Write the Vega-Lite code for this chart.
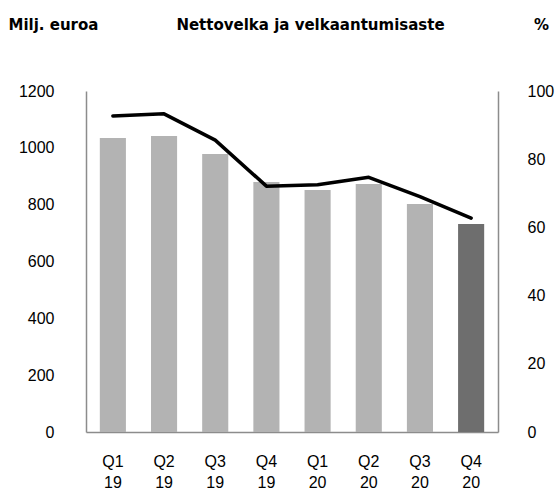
{
  "$schema": "https://vega.github.io/schema/vega-lite/v6.json",
  "width": 412,
  "height": 341,
  "autosize": "none",
  "padding": {"left": 86, "top": 91, "right": 60, "bottom": 59},
  "background": "white",
  "data": {
    "values": [
      {"q": "Q1 19", "velka": 1035, "aste": 92.7, "last": "no"},
      {"q": "Q2 19", "velka": 1042, "aste": 93.3, "last": "no"},
      {"q": "Q3 19", "velka": 978, "aste": 85.6, "last": "no"},
      {"q": "Q4 19", "velka": 880, "aste": 72.1, "last": "no"},
      {"q": "Q1 20", "velka": 852, "aste": 72.5, "last": "no"},
      {"q": "Q2 20", "velka": 873, "aste": 74.7, "last": "no"},
      {"q": "Q3 20", "velka": 802, "aste": 69.0, "last": "no"},
      {"q": "Q4 20", "velka": 732, "aste": 62.7, "last": "yes"}
    ]
  },
  "config": {
    "view": {"stroke": null},
    "axis": {
      "labelFont": "Liberation Sans",
      "labelFontSize": 16,
      "labelColor": "black",
      "domainColor": "#8c8c8c",
      "domainWidth": 1.5,
      "ticks": false,
      "grid": false,
      "titleFont": "DejaVu Sans",
      "titleFontSize": 15,
      "titleFontWeight": "bold",
      "titleColor": "black",
      "titleAngle": 0,
      "titleBaseline": "middle"
    }
  },
  "encoding": {
    "x": {
      "field": "q",
      "type": "ordinal",
      "sort": null,
      "scale": {"paddingInner": 0.49, "paddingOuter": 0.27},
      "axis": {
        "title": "Nettovelka ja velkaantumisaste",
        "titleAlign": "center",
        "titleX": 224,
        "titleY": -408,
        "labelAngle": 0,
        "labelPadding": 21,
        "labelLineHeight": 21,
        "labelExpr": "split(datum.label, ' ')"
      }
    }
  },
  "layer": [
    {
      "mark": {"type": "bar"},
      "encoding": {
        "y": {
          "field": "velka",
          "type": "quantitative",
          "scale": {"domain": [0, 1200]},
          "axis": {
            "values": [0, 200, 400, 600, 800, 1000, 1200],
            "format": "d",
            "labelPadding": 32,
            "title": "Milj. euroa",
            "titleAlign": "left",
            "titleX": -78,
            "titleY": -67
          }
        },
        "color": {
          "field": "last",
          "type": "nominal",
          "scale": {"domain": ["no", "yes"], "range": ["#b3b3b3", "#6e6e6e"]},
          "legend": null
        }
      }
    },
    {
      "mark": {"type": "line", "color": "black", "strokeWidth": 3.5, "strokeCap": "round", "strokeJoin": "round"},
      "encoding": {
        "y": {
          "field": "aste",
          "type": "quantitative",
          "scale": {"domain": [0, 100]},
          "axis": {
            "orient": "right",
            "values": [0, 20, 40, 60, 80, 100],
            "labelPadding": 29,
            "title": "%",
            "titleAlign": "center",
            "titleX": 43,
            "titleY": -67
          }
        }
      }
    }
  ],
  "resolve": {"scale": {"y": "independent"}}
}
